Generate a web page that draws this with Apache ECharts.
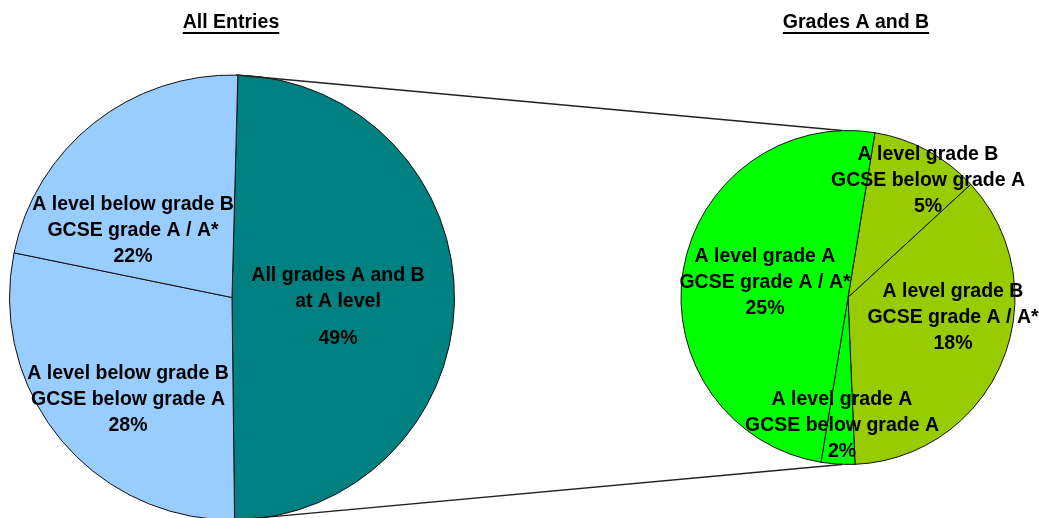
<!DOCTYPE html>
<html>
<head>
<meta charset="utf-8">
<script src="https://cdn.jsdelivr.net/npm/echarts@6/dist/echarts.min.js"></script>
<style>
  html, body { margin: 0; padding: 0; background: #fff; }
  #main { width: 1039px; height: 518px; }
</style>
</head>
<body>
<div id="main"></div>
<script>
// left pie: all entries
const allNames = ['All grades A and B\nat A level', 'A level below grade B\nGCSE below grade A', 'A level below grade B\nGCSE grade A / A*'];
const allValues = [49.4, 28.4, 22.2];
const allColors = ['#008080', '#99CCFF', '#99CCFF'];

// right pie: breakdown of grades A and B
const abNames = ['A level grade B\nGCSE below grade A', 'A level grade B\nGCSE grade A / A*', 'A level grade A\nGCSE below grade A', 'A level grade A\nGCSE grade A / A*'];
const abValues = [5.2, 17.8, 1.6, 24.6];
const abColors = ['#99CC00', '#99CC00', '#00FF00', '#00FF00'];

const titles = ['All Entries', 'Grades A and B'];

// layout (pixels)
const leftPie = { cx: 232, cy: 297.5, r: 222.5, start: 88.5 };
const rightPie = { cx: 848, cy: 297.5, r: 167, start: 80.7 };
// label block centres, offsets from pie centre
const leftLabelOff = [[106, 8], [-104, 102], [-99, -67]];
const rightLabelOff = [[80, -117], [105, 20], [-6, 128], [-83, -15]];
const titleX = [231, 856];

const font = 'Liberation Sans, Arial, sans-serif';
const fs = 19.5;
const chart = echarts.init(document.getElementById('main'));

function pieSeries(p, names, values, colors, offs) {
  return {
    type: 'pie',
    center: [p.cx, p.cy],
    radius: p.r,
    startAngle: p.start,
    clockwise: true,
    animation: false,
    silent: true,
    avoidLabelOverlap: false,
    itemStyle: { borderColor: '#111', borderWidth: 1 },
    label: {
      show: true,
      position: 'inside',
      color: '#000',
      fontFamily: font,
      fontWeight: 'bold',
      fontSize: fs,
      lineHeight: 26,
      align: 'center',
      formatter: (d) => {
        if (d.dataIndex === 0 && names === allNames) {
          return d.name.split('\n').map(s => '{a|' + s + '}').join('\n') + '\n{p|' + Math.round(d.value) + '%}';
        }
        return d.name + '\n' + Math.round(d.value) + '%';
      },
      rich: {
        a: { fontFamily: font, fontWeight: 'bold', fontSize: fs, lineHeight: 26, color: '#000' },
        p: { fontFamily: font, fontWeight: 'bold', fontSize: fs, lineHeight: 34, color: '#000', verticalAlign: 'bottom' }
      }
    },
    labelLine: { show: false },
    labelLayout: (params) => ({
      x: p.cx + offs[params.dataIndex][0],
      y: p.cy + offs[params.dataIndex][1],
      align: 'center',
      verticalAlign: 'middle'
    }),
    data: names.map((n, i) => ({ name: n, value: values[i], itemStyle: { color: colors[i] } }))
  };
}

const ctx = document.createElement('canvas').getContext('2d');
ctx.font = 'bold ' + fs + 'px ' + font;
const titleGraphics = [];
titles.forEach((t, i) => {
  const w = ctx.measureText(t).width;
  titleGraphics.push({
    type: 'text', x: titleX[i], y: 23,
    style: { text: t, fill: '#000', font: 'bold ' + fs + 'px ' + font, textAlign: 'center', textVerticalAlign: 'middle' }
  });
  titleGraphics.push({
    type: 'rect', shape: { x: titleX[i] - w / 2, y: 32, width: w, height: 2 },
    style: { fill: '#000' }
  });
});

// connector lines from top/bottom of the left pie to top/bottom of the right pie
const connectors = [-1, 1].map(s => ({
  type: 'line',
  shape: { x1: leftPie.cx + 4, y1: leftPie.cy + s * leftPie.r, x2: rightPie.cx - 6, y2: rightPie.cy + s * rightPie.r },
  style: { stroke: '#222', lineWidth: 1.3 },
  z: 10
}));

chart.setOption({
  backgroundColor: '#fff',
  animation: false,
  graphic: titleGraphics.concat(connectors),
  series: [
    pieSeries(leftPie, allNames, allValues, allColors, leftLabelOff),
    pieSeries(rightPie, abNames, abValues, abColors, rightLabelOff)
  ]
});
</script>
</body>
</html>
